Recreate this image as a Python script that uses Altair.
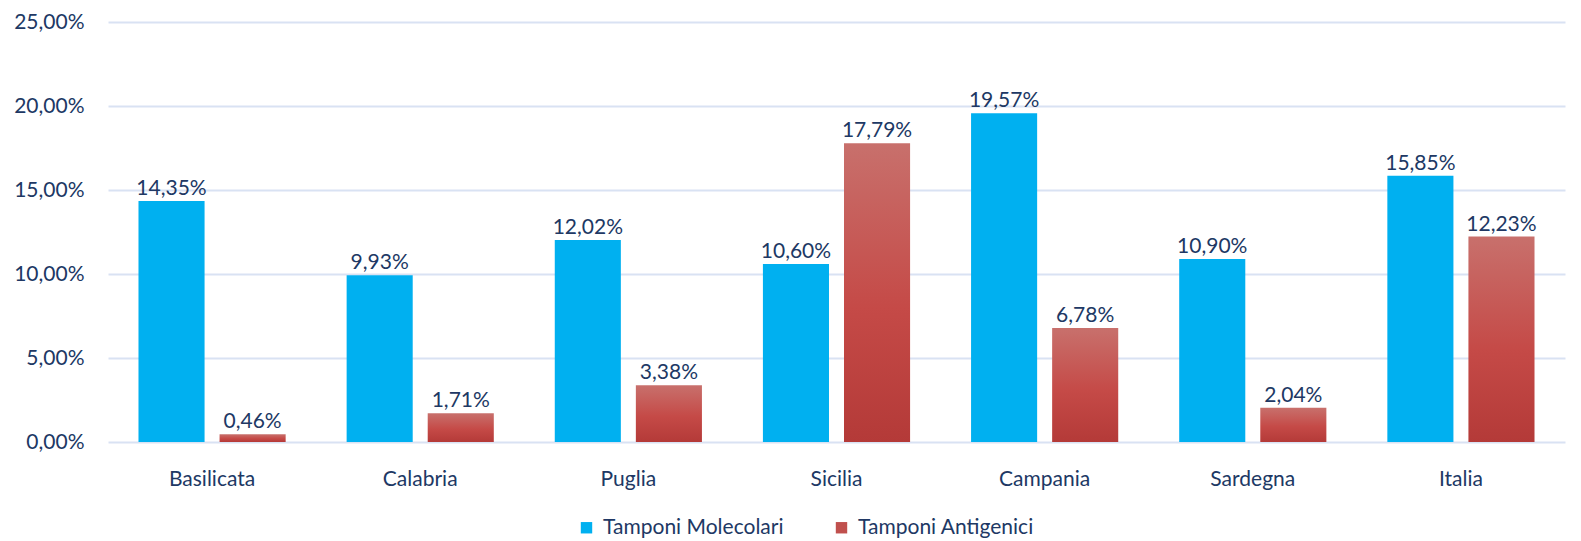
import altair as alt
import pandas as pd

regions = ["Basilicata", "Calabria", "Puglia", "Sicilia", "Campania", "Sardegna", "Italia"]
molecolari = [0.1435, 0.0993, 0.1202, 0.1060, 0.1957, 0.1090, 0.1585]
antigenici = [0.0046, 0.0171, 0.0338, 0.1779, 0.0678, 0.0204, 0.1223]
series = ["Tamponi Molecolari", "Tamponi Antigenici"]
y_ticks = [0, 0.05, 0.10, 0.15, 0.20, 0.25]

rows = []
for r, m, a in zip(regions, molecolari, antigenici):
    rows.append({"region": r, "series": series[0], "value": m})
    rows.append({"region": r, "series": series[1], "value": a})
df = pd.DataFrame(rows)

TXT = "#203864"
FONT = "Lato"
BLUE = "#00B0F0"
RED = "#C0504D"

x_enc = alt.X("region:N", sort=regions, title=None,
              scale=alt.Scale(paddingInner=0, paddingOuter=0),
              axis=alt.Axis(labelAngle=0, labelFontSize=21, labelColor=TXT, labelFont=FONT,
                            labelPadding=26, ticks=False, domain=False, grid=False))
xoff = alt.XOffset("series:N", sort=series,
                   scale=alt.Scale(domain=series, paddingInner=0.185, paddingOuter=0.376))
y_enc = alt.Y("value:Q", title=None,
              scale=alt.Scale(domain=[0, 0.25], nice=False),
              axis=alt.Axis(values=y_ticks, labelExpr="replace(format(datum.value, '.2%'), '.', ',')",
                            labelFontSize=21, labelColor=TXT, labelFont=FONT, labelPadding=24,
                            ticks=False, domain=False, gridColor="#D9E2F3", gridWidth=2))

base = alt.Chart(df).transform_calculate(
    lab="replace(format(datum.value, '.2%'), '.', ',')"
)

blue = base.transform_filter(alt.datum.series == series[0]).mark_bar().encode(
    x=x_enc, xOffset=xoff, y=y_enc,
    color=alt.Color("series:N", sort=series,
                    scale=alt.Scale(domain=series, range=[BLUE, RED]),
                    legend=alt.Legend(title=None, orient="none", direction="horizontal",
                                      legendX=468, legendY=495, symbolType="square",
                                      symbolSize=130, symbolStrokeWidth=0, labelFontSize=21,
                                      labelColor=TXT, labelFont=FONT, columnPadding=47,
                                      labelOffset=6, labelLimit=400, symbolOpacity=1))
)

red = base.transform_filter(alt.datum.series == series[1]).mark_bar(
    fill=alt.Gradient(gradient="linear", x1=0, y1=0, x2=0, y2=1,
                      stops=[alt.GradientStop(color="#C8706C", offset=0),
                             alt.GradientStop(color="#C54A47", offset=0.55),
                             alt.GradientStop(color="#B43A38", offset=1)])
).encode(x=x_enc, xOffset=xoff, y=y_enc)

labels = base.mark_text(baseline="bottom", dy=-2, fontSize=21, color=TXT, font=FONT).encode(
    x=x_enc, xOffset=xoff, y=y_enc, text="lab:N"
)

chart = alt.layer(blue, red, labels).properties(
    width=1457, height=420,
    autosize=alt.AutoSizeParams(type="none"),
    padding={"left": 100, "top": 14, "right": 8, "bottom": 97},
    background="white"
).configure_view(stroke=None)

chart.save("out.html", embed_options={"renderer": "svg", "actions": False})
